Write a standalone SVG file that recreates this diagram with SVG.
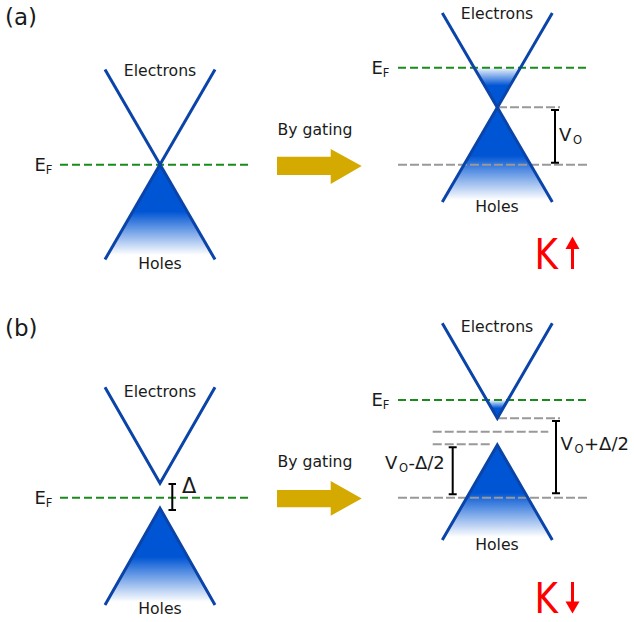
<svg xmlns="http://www.w3.org/2000/svg" width="634" height="622" viewBox="0 0 634 622">
<defs>
<linearGradient id="gHoles" x1="0" y1="0" x2="0" y2="1">
<stop offset="0" stop-color="#0055d4"/>
<stop offset="0.52" stop-color="#0055d4"/>
<stop offset="1" stop-color="#0055d4" stop-opacity="0"/>
</linearGradient>
<linearGradient id="gElec" x1="0" y1="0" x2="0" y2="1">
<stop offset="0" stop-color="#0055d4" stop-opacity="0.05"/>
<stop offset="0.45" stop-color="#0055d4"/>
<stop offset="1" stop-color="#0055d4"/>
</linearGradient>
</defs>
<style>
.cone{fill:none;stroke:#0b44a8;stroke-width:3;stroke-linejoin:miter}
.ef{stroke:#1a8a1a;stroke-width:2;stroke-dasharray:8 4;fill:none}
.gl{stroke:#999999;stroke-width:2;stroke-dasharray:9 3;fill:none}
.br{stroke:#000;stroke-width:2;fill:none}
.t{font-family:"DejaVu Sans",sans-serif;fill:#1a1a1a}
.lbl{font-size:15.7px;text-anchor:middle}
.big{font-size:18px}
.sub{font-size:11.5px}
.gate{fill:#d4aa00}
.k{font-family:"DejaVu Sans",sans-serif;font-size:42px;fill:#ff0000}
</style>
<rect width="634" height="622" fill="#ffffff"/>

<text class="t" x="5" y="25" font-size="23">(a)</text>
<text class="t" x="5" y="336" font-size="23">(b)</text>

<!-- panel a left -->
<g id="a-left">
<polygon points="160,164.5 107.6,255 212.4,255" fill="url(#gHoles)"/>
<line class="ef" x1="60" y1="164.7" x2="250" y2="164.7"/>
<line class="cone" x1="105" y1="69.5" x2="215" y2="259.5"/>
<line class="cone" x1="215" y1="69.5" x2="105" y2="259.5"/>
<text class="t lbl" x="160" y="76">Electrons</text>
<text class="t lbl" x="160" y="269">Holes</text>
<text class="t big" x="34.5" y="170.5">E</text><text class="t sub" x="45.8" y="173.5">F</text>
</g>

<g id="a-arrow">
<text class="t" x="277.5" y="135" font-size="15.7px">By gating</text>
<polygon class="gate" points="277,156.7 330.7,156.7 330.7,149 361.7,166 330.7,184 330.7,175 277,175"/>
</g>

<!-- panel a right -->
<g id="a-right">
<polygon points="474.4,67.7 520.2,67.7 497.3,107.5" fill="url(#gElec)"/>
<polygon points="497.3,107.5 443.7,200 550.9,200" fill="url(#gHoles)"/>
<line class="gl" x1="498" y1="107.3" x2="560" y2="107.3"/>
<line class="gl" x1="398" y1="164.7" x2="588" y2="164.7"/>
<line class="ef" x1="398" y1="67.7" x2="587" y2="67.7"/>
<line class="cone" x1="442.3" y1="13" x2="552.3" y2="202"/>
<line class="cone" x1="552.3" y1="13" x2="442.3" y2="202"/>
<path class="br" d="M555,110V162.7M551,110H559M551,162.7H559"/>
<text class="t big" x="559" y="140.5">V</text><text class="t sub" x="573" y="144">O</text>
<text class="t lbl" x="497" y="19">Electrons</text>
<text class="t lbl" x="497" y="212">Holes</text>
<text class="t big" x="371.5" y="73.5">E</text><text class="t sub" x="382.8" y="76.5">F</text>
<text class="k" x="534" y="269" transform="translate(537 0) scale(0.85 1) translate(-537 0)">K</text>
<line x1="572.5" y1="247" x2="572.5" y2="269" stroke="#ff0000" stroke-width="3"/>
<polygon points="565.5,249 579.5,249 572.5,236.5" fill="#ff0000"/>
</g>

<!-- panel b left -->
<g id="b-left">
<polygon points="160,508.3 105.8,602 214.2,602" fill="url(#gHoles)"/>
<line class="ef" x1="60" y1="497.7" x2="250" y2="497.7"/>
<polyline class="cone" points="105,387.3 160,483.3 215,387.3"/>
<polyline class="cone" points="105,605 160,508.3 215,605"/>
<path class="br" d="M172.3,484V510M168.5,484H176M168.5,510H176"/>
<text class="t" x="182" y="492.5" font-size="21px">Δ</text>
<text class="t lbl" x="160" y="397">Electrons</text>
<text class="t lbl" x="160" y="614">Holes</text>
<text class="t big" x="34.5" y="503.5">E</text><text class="t sub" x="45.8" y="506.5">F</text>
</g>

<g id="b-arrow">
<text class="t" x="277.5" y="466.7" font-size="15.7px">By gating</text>
<polygon class="gate" points="277,490 330.7,490 330.7,481 361.7,498.5 330.7,515.7 330.7,507.3 277,507.3"/>
</g>

<!-- panel b right -->
<g id="b-right">
<polygon points="486.7,400 507.9,400 497.3,418.3" fill="url(#gElec)"/>
<polygon points="497.3,445 444,537 550.6,537" fill="url(#gHoles)"/>
<line class="gl" x1="498" y1="418.3" x2="560" y2="418.3"/>
<line class="gl" x1="432.7" y1="431.7" x2="548.3" y2="431.7"/>
<line class="gl" x1="432.7" y1="444.3" x2="492" y2="444.3"/>
<line class="gl" x1="398" y1="497.7" x2="588" y2="497.7"/>
<line class="ef" x1="398" y1="400" x2="587" y2="400"/>
<polyline class="cone" points="442.3,323.3 497.3,418.3 552.3,323.3"/>
<polyline class="cone" points="442.3,540 497.3,445 552.3,540"/>
<path class="br" d="M452.7,447.3V494.3M448.7,447.3H456.7M448.7,494.3H456.7"/>
<path class="br" d="M556,421V493.3M552,421H560M552,493.3H560"/>
<text class="t big" x="560.5" y="449.5">V</text><text class="t sub" x="574.5" y="453">O</text><text class="t big" x="584" y="449.5">+Δ/2</text>
<text class="t big" x="385" y="468.5">V</text><text class="t sub" x="399" y="472">O</text><text class="t big" x="408.5" y="468.5">-Δ/2</text>
<text class="t lbl" x="497" y="332.3">Electrons</text>
<text class="t lbl" x="497" y="550">Holes</text>
<text class="t big" x="371.5" y="406">E</text><text class="t sub" x="382.8" y="409">F</text>
<text class="k" x="534" y="613" transform="translate(537 0) scale(0.85 1) translate(-537 0)">K</text>
<line x1="572.5" y1="582" x2="572.5" y2="603" stroke="#ff0000" stroke-width="3"/>
<polygon points="565.5,601.5 579.5,601.5 572.5,613.5" fill="#ff0000"/>
</g>
</svg>
